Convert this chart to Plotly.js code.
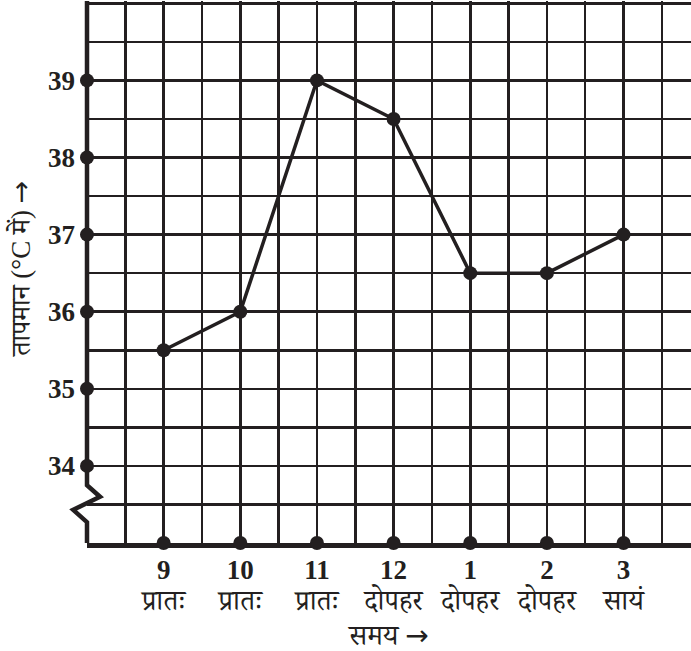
<!DOCTYPE html>
<html><head><meta charset="utf-8">
<script src="https://cdn.plot.ly/plotly-3.0.1.min.js"></script>
<style>html,body{margin:0;padding:0;background:#fff}</style>
</head><body><div id="chart" style="width:691px;height:651px"></div>
<script>
const timeNumbers = ['9','10','11','12','1','2','3'];
const timeWords = ['प्रातः','प्रातः','प्रातः','दोपहर','दोपहर','दोपहर','सायं'];
const temperatures = [35.5, 36, 39, 38.5, 36.5, 36.5, 37];
const yTickValues = [34, 35, 36, 37, 38, 39];
const yTitle = 'तापमान (°C में) →';
const xTitle = 'समय →';

const INK = '#231f20';
const positions = timeNumbers.map((_, i) => i + 1);
const xRange = [0, 7.88];
const yRange = [33, 40.03];
const serif = '"Liberation Serif", "Times New Roman", "Noto Serif Devanagari", serif';
const longArrow = s => s.replace('→', '<span style="font-family:\'DejaVu Sans\'">→</span>');

const px = v => (v - xRange[0]) / (xRange[1] - xRange[0]);
const py = v => (v - yRange[0]) / (yRange[1] - yRange[0]);

const traces = [
  {
    x: positions, y: temperatures, type: 'scatter', mode: 'lines+markers',
    line: {color: INK, width: 3.5}, marker: {color: INK, size: 14},
    cliponaxis: false, hoverinfo: 'skip'
  },
  {
    x: yTickValues.map(() => xRange[0]), y: yTickValues, type: 'scatter', mode: 'markers',
    marker: {color: INK, size: 14}, cliponaxis: false, hoverinfo: 'skip'
  },
  {
    x: positions, y: positions.map(() => yRange[0]), type: 'scatter', mode: 'markers',
    marker: {color: INK, size: 14}, cliponaxis: false, hoverinfo: 'skip'
  }
];

const layout = {
  width: 691, height: 651,
  margin: {l: 87, r: 0, t: 1, b: 108},
  paper_bgcolor: '#fff', plot_bgcolor: '#fff',
  showlegend: false,
  font: {family: serif, color: INK},
  xaxis: {
    range: xRange, fixedrange: true,
    tickvals: positions,
    ticktext: timeNumbers.map((n, i) =>
      '<span style="font-size:27px"><b>' + n + '</b></span><br>' +
      '<span style="font-size:28px">' + timeWords[i] + '</span>'),
    tickfont: {size: 24, family: serif, color: INK},
    ticks: '', ticklabelstandoff: 2,
    showgrid: false, zeroline: false,
    minor: {dtick: 0.5, tick0: 0.5, showgrid: true, gridcolor: INK, gridwidth: 2.5, ticks: ''},
    showline: true, linecolor: INK, linewidth: 5,
    layer: 'below traces'
  },
  yaxis: {
    range: yRange, fixedrange: true,
    tickvals: yTickValues,
    ticktext: yTickValues.map(String),
    tickfont: {size: 27, family: serif, color: INK, weight: 'bold'},
    ticks: '', ticklabelstandoff: 11,
    showgrid: false, zeroline: false,
    minor: {dtick: 0.5, tick0: 33.5, showgrid: true, gridcolor: INK, gridwidth: 2.5, ticks: ''},
    showline: false,
    layer: 'below traces'
  },
  annotations: [
    {
      text: longArrow(yTitle), textangle: -90, showarrow: false,
      xref: 'paper', yref: 'paper', x: (20 - 87) / 604, y: (543 - 270) / 542,
      xanchor: 'center', yanchor: 'middle',
      font: {size: 27, family: serif, color: INK}
    },
    {
      text: longArrow(xTitle), showarrow: false,
      xref: 'paper', yref: 'paper', x: (388 - 87) / 604, y: (543 - 635) / 542,
      xanchor: 'center', yanchor: 'middle',
      font: {size: 28, family: serif, color: INK}
    }
  ],
  shapes: [{
    type: 'path', xref: 'paper', yref: 'paper', layer: 'below',
    path: 'M ' + px(0) + ',' + py(40.03) + ' L ' + px(0) + ',' + py(33.75) +
          ' L ' + px(0.17) + ',' + py(33.6) + ' L ' + px(-0.18) + ',' + py(33.43) +
          ' L ' + px(0) + ',' + py(33.27) + ' L ' + px(0) + ',' + py(33),
    line: {color: INK, width: 4.5}
  }]
};

Plotly.newPlot('chart', traces, layout, {displayModeBar: false, staticPlot: true});
</script></body></html>
